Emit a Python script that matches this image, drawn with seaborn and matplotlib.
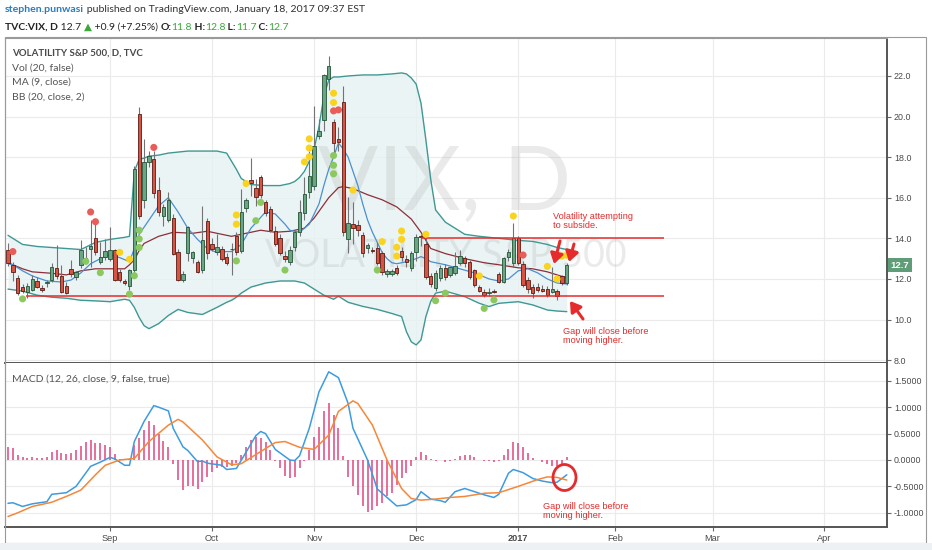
import matplotlib
matplotlib.use('Agg')
import matplotlib.pyplot as plt
from matplotlib.patches import Rectangle, Ellipse
import numpy as np
import pandas as pd
import seaborn as sns

# daily VIX candles, Aug 3 2016 .. Jan 18 2017 (one value per trading day)
opens = [13.45, 12.7, 12.05, 11.6, 11.38, 11.46, 11.9, 11.54, 11.8, 11.95,
         12.52, 12.15, 11.66, 12.49, 12.1, 12.69, 13.05, 13.46, 14.03, 12.85,
         13.1, 13.0, 13.43, 12.36, 11.9, 11.66, 12.44, 20.11, 15.89, 17.77,
         17.93, 16.38, 15.1, 14.9, 14.98, 13.34, 11.95, 13.26, 13.02, 12.82,
         12.44, 14.85, 13.7, 13.34, 13.48, 13.07, 13.48, 14.13, 13.4, 15.48,
         16.87, 16.46, 17.0, 15.77, 15.43, 14.38, 14.0, 13.15, 12.85, 13.59,
         14.33, 15.23, 16.3, 16.6, 19.04, 19.83, 21.84, 19.75, 18.9, 20.74,
         13.95, 14.7, 14.66, 14.17, 13.51, 13.42, 13.51, 13.26, 12.23, 12.25,
         12.53, 13.38, 13.0, 12.53, 13.35, 14.1, 13.72, 12.15, 11.54, 12.03,
         12.53, 12.2, 12.28, 12.8, 13.02, 12.85, 12.44, 11.59, 11.36, 11.32,
         11.38, 12.25, 11.87, 13.1, 12.77, 14.0, 12.74, 11.95, 11.62, 11.62,
         11.52, 11.5, 11.38, 11.43, 12.15, 11.8]
highs = [13.75, 12.85, 12.2, 11.75, 11.8, 12.2, 12.1, 11.7, 11.95, 12.8,
         13.65, 12.7, 11.85, 12.95, 12.4, 13.9, 13.55, 14.9, 14.75, 13.8,
         13.95, 14.55, 13.5, 12.5, 12.0, 12.5, 17.55, 20.47, 18.9, 18.3,
         18.3, 17.0, 15.7, 16.3, 15.2, 13.5, 12.4, 14.6, 13.4, 12.95,
         15.6, 15.0, 14.0, 14.2, 13.6, 13.3, 13.75, 14.3, 16.45, 16.0,
         17.95, 16.9, 17.1, 15.9, 15.6, 14.6, 14.2, 13.4, 13.6, 14.4,
         15.9, 17.0, 18.3, 20.5, 19.9, 22.1, 23.0, 19.9, 19.5, 21.5,
         16.05, 15.8, 14.9, 14.3, 13.75, 13.55, 13.8, 13.4, 12.5, 12.5,
         12.7, 13.55, 13.2, 13.4, 14.2, 14.2, 14.1, 12.3, 12.45, 12.7,
         12.75, 12.6, 13.35, 13.45, 13.15, 12.95, 12.5, 11.7, 11.5, 11.55,
         11.5, 12.35, 13.1, 13.5, 14.74, 14.1, 12.9, 12.1, 11.75, 11.8,
         11.7, 11.65, 12.6, 11.5, 12.2, 12.8]
lows = [12.65, 11.9, 11.2, 11.3, 11.05, 11.4, 11.55, 11.35, 11.6, 11.85,
        12.0, 11.3, 11.25, 12.1, 11.95, 12.55, 12.75, 12.6, 13.2, 12.75,
        12.95, 12.9, 11.9, 11.85, 11.7, 11.45, 12.3, 14.95, 15.5, 17.5,
        16.0, 15.1, 14.6, 14.8, 13.2, 11.9, 11.85, 12.9, 12.8, 12.3,
        12.3, 13.0, 13.4, 13.2, 12.9, 12.7, 12.2, 13.2, 13.3, 15.3,
        16.1, 15.6, 16.0, 15.1, 14.3, 13.6, 13.2, 12.85, 12.7, 13.4,
        14.1, 14.9, 16.0, 16.4, 18.9, 19.3, 21.3, 18.1, 18.3, 14.1,
        13.3, 13.7, 14.1, 13.1, 13.3, 13.3, 12.7, 12.2, 12.1, 12.15,
        12.2, 12.9, 12.6, 12.4, 12.9, 13.6, 12.0, 11.6, 11.4, 11.9,
        11.95, 12.1, 12.2, 12.7, 12.6, 12.0, 11.6, 11.35, 11.1, 11.15,
        11.3, 11.8, 11.8, 12.9, 12.6, 12.7, 11.6, 11.3, 11.05, 11.35,
        11.35, 11.1, 11.3, 10.96, 11.7, 11.7]
closes = [12.8, 12.35, 11.3, 11.42, 11.66, 12.0, 11.62, 11.47, 11.84, 12.6,
          12.15, 11.38, 11.3, 12.23, 12.36, 13.43, 12.9, 13.62, 13.34, 13.1,
          13.39, 13.43, 11.95, 11.95, 11.82, 12.44, 17.44, 15.1, 17.77, 18.07,
          16.21, 15.31, 15.56, 15.89, 13.23, 11.95, 12.25, 14.54, 13.31, 12.36,
          13.9, 13.26, 13.5, 13.57, 12.97, 12.8, 13.46, 13.34, 15.3, 15.89,
          16.71, 16.05, 16.13, 15.23, 14.41, 13.7, 13.26, 12.97, 13.43, 14.3,
          15.32, 16.2, 17.05, 18.57, 19.29, 22.05, 22.5, 18.68, 18.76, 14.33,
          14.74, 14.5, 14.41, 13.26, 13.67, 13.38, 12.77, 12.36, 12.39, 12.41,
          12.31, 13.07, 12.85, 13.26, 14.08, 14.05, 12.11, 11.75, 12.28, 12.53,
          12.08, 12.57, 12.64, 13.13, 12.77, 12.11, 11.7, 11.43, 11.2, 11.36,
          11.37, 11.87, 13.02, 13.35, 14.0, 12.77, 11.7, 11.49, 11.3, 11.46,
          11.43, 11.2, 11.49, 11.18, 11.79, 12.7]

# Bollinger bands (20, 2) read at sample bars
bb_idx = [0, 3, 6, 9, 12, 15, 18, 21, 24, 25,
          26, 27, 28, 29, 31, 33, 35, 37, 40, 43,
          45, 46, 47, 48, 50, 53, 56, 58, 59, 60,
          61, 62, 63, 64, 65, 66, 67, 68, 70, 73,
          76, 79, 81, 82, 83, 84, 85, 86, 87, 88,
          90, 94, 97, 99, 101, 105, 108, 111, 113, 115]
bb_upper = [14.15, 13.7, 13.6, 13.55, 13.5, 13.45, 13.8, 13.95, 14.05, 14.1,
            17.3, 17.9, 17.95, 18.05, 18.1, 18.2, 18.25, 18.3, 18.3, 18.3,
            18.2, 17.8, 17.4, 16.95, 16.65, 16.6, 16.6, 16.7, 16.8, 17.0,
            17.3, 17.8, 18.4, 19.5, 21.0, 21.8, 21.95, 21.95, 22.0, 22.05,
            22.05, 22.1, 22.15, 22.1, 21.9, 21.6, 20.65, 18.85, 16.9, 15.4,
            14.8, 14.2, 14.1, 14.05, 14.0, 13.9, 13.85, 13.7, 13.55, 13.45]
bb_lower = [11.5, 11.4, 11.2, 11.1, 11.05, 10.95, 10.92, 10.88, 11.0, 10.95,
            10.6, 10.1, 9.7, 9.55, 9.8, 10.2, 10.5, 10.35, 10.25, 10.6,
            10.85, 10.95, 11.1, 11.3, 11.6, 11.8, 11.9, 11.9, 11.9, 11.85,
            11.8, 11.65, 11.5, 11.35, 11.2, 11.1, 11.0, 11.15, 10.85, 10.65,
            10.5, 10.3, 10.15, 9.4, 8.9, 8.75, 9.0, 10.15, 10.9, 11.3,
            11.4, 11.13, 10.8, 10.64, 10.8, 10.88, 10.72, 10.47, 10.42, 10.39]

# BB basis (20) and MA (9)
basis_idx = [0, 3, 5, 9, 12, 15, 18, 21, 24, 25, 26, 27, 28, 31, 34, 38, 41, 44,
             46, 49, 52, 55, 58, 61, 63, 66, 68, 69, 71, 74, 77, 80, 83, 85, 87,
             90, 94, 98, 101, 105, 108, 111, 113, 115]
basis_val = [12.8, 12.5, 12.35, 12.28, 12.2, 12.4, 12.5, 12.5, 12.5, 12.7, 12.95,
             13.4, 13.75, 14.1, 14.3, 14.25, 14.35, 14.2, 14.1, 14.25, 14.4, 14.3,
             14.35, 14.5, 15.0, 16.0, 16.5, 16.55, 16.45, 16.15, 15.9, 15.55,
             14.95, 14.3, 13.5, 13.25, 13.0, 12.8, 12.7, 12.55, 12.5, 12.35,
             12.2, 12.05]
ma9_idx = [0, 1, 3, 5, 8, 11, 13, 15, 17, 19, 21, 23, 25, 26, 27, 29, 31, 33,
           35, 37, 39, 41, 43, 45, 46, 48, 50, 53, 55, 57, 58, 60, 62, 63, 64,
           65, 66, 67, 68, 69, 70, 71, 72, 73, 74, 75, 76, 77, 78, 79, 80, 82,
           84, 85, 86, 87, 88, 90, 93, 96, 99, 101, 103, 105, 107, 109, 111,
           113, 115]
ma9_val = [12.75, 12.7, 12.4, 12.15, 11.9, 11.85, 11.95, 12.3, 12.75, 13.0,
           13.2, 13.05, 12.85, 13.5, 14.2, 14.9, 15.6, 16.0, 15.3, 14.5, 13.95,
           13.5, 13.3, 13.35, 13.35, 13.7, 14.5, 15.3, 15.2, 14.7, 14.4, 14.3,
           14.7, 15.2, 15.7, 16.6, 17.4, 18.0, 18.7, 18.4, 18.0, 17.3, 16.6,
           15.7, 14.9, 14.3, 13.8, 13.3, 13.0, 12.8, 12.75, 12.85, 13.0, 13.1,
           13.0, 12.85, 12.8, 12.7, 12.5, 12.3, 12.0, 11.9, 12.0, 12.4, 12.5,
           12.3, 12.0, 11.8, 11.75]

# coloured dots above / below the candles
red_dot_idx = [1, 17, 18, 30, 67, 68, 106]
red_dot_val = [13.35, 15.3, 14.82, 18.48, 20.28, 20.33, 13.18]
green_dot_idx = [3, 16, 19, 25, 26, 27, 27, 27, 47, 51, 52, 57, 67, 67, 67,
                 76, 88, 90, 98, 100]
green_dot_val = [11.02, 12.87, 12.31, 11.25, 12.16, 14.4, 13.97, 13.55, 12.89,
                 14.87, 15.77, 12.44, 18.08, 17.6, 17.18, 12.44, 10.93, 11.3,
                 10.55, 10.97]
yellow_dot_idx = [23, 25, 47, 47, 49, 61, 62, 62, 62, 67, 67, 71, 77, 80, 80,
                  81, 81, 86, 97, 104, 111, 113, 114, 115]
yellow_dot_val = [13.31, 12.97, 15.15, 14.7, 16.7, 17.77, 18.02, 18.45, 18.9,
                  21.15, 20.69, 16.38, 13.84, 13.56, 13.13, 13.95, 14.36, 14.2,
                  12.15, 15.1, 12.62, 12.0, 13.13, 13.17]

# MACD (12, 26, 9)
macd_idx = [0, 1, 3, 5, 8, 9, 12, 14, 17, 19, 21, 22, 24, 25, 26, 28, 30, 31,
            33, 34, 36, 37, 39, 40, 41, 44, 45, 47, 49, 51, 52, 53, 55, 58, 59,
            60, 62, 64, 66, 68, 70, 71, 74, 76, 80, 82, 84, 85, 87, 89, 90, 92,
            94, 96, 98, 100, 101, 103, 104, 106, 108, 110, 112, 113, 115]
macd_val = [-0.82, -0.81, -0.88, -0.83, -0.79, -0.65, -0.62, -0.5, -0.12, -0.04,
            0.05, 0.02, -0.1, -0.1, 0.35, 0.73, 1.03, 1.0, 0.93, 0.6, 0.25, 0.18,
            -0.03, -0.02, -0.06, -0.1, -0.18, -0.16, 0.15, 0.46, 0.54, 0.5, 0.2,
            0.0, -0.01, 0.08, 0.6, 1.29, 1.67, 1.56, 1.07, 0.6, 0.0, -0.55, -0.87,
            -0.85, -0.75, -0.6, -0.74, -0.77, -0.8, -0.6, -0.54, -0.6, -0.66,
            -0.71, -0.65, -0.25, -0.18, -0.24, -0.35, -0.4, -0.43, -0.42, -0.28]
signal_idx = [0, 2, 5, 9, 12, 15, 18, 20, 23, 26, 29, 33, 35, 36, 40, 43, 46, 48,
              52, 55, 57, 60, 63, 66, 68, 71, 72, 75, 78, 81, 83, 85, 88, 91, 94,
              98, 101, 105, 109, 111, 113, 115]
signal_val = [-1.07, -1.0, -0.88, -0.8, -0.69, -0.57, -0.28, -0.1, 0.0, 0.03,
              0.35, 0.66, 0.77, 0.72, 0.38, 0.06, -0.09, -0.07, 0.16, 0.33, 0.35,
              0.24, 0.2, 0.47, 0.92, 1.12, 1.07, 0.66, 0.0, -0.54, -0.73, -0.76,
              -0.74, -0.71, -0.69, -0.63, -0.62, -0.5, -0.37, -0.32, -0.33, -0.38]
hist = [0.24, 0.22, 0.09, 0.06, 0.045, 0.05, 0.045, 0.04, 0.06, 0.15,
        0.18, 0.14, 0.11, 0.14, 0.18, 0.27, 0.35, 0.38, 0.33, 0.32,
        0.28, 0.25, 0.11, 0.01, 0.0, 0.01, 0.28, 0.42, 0.56, 0.73,
        0.66, 0.5, 0.36, 0.24, -0.08, -0.38, -0.57, -0.5, -0.5, -0.54,
        -0.41, -0.33, -0.22, -0.16, -0.13, -0.13, -0.11, -0.06, 0.09, 0.24,
        0.38, 0.43, 0.41, 0.35, 0.19, -0.01, -0.16, -0.3, -0.35, -0.32,
        -0.16, -0.01, 0.18, 0.43, 0.63, 0.92, 1.07, 0.85, 0.6, 0.08,
        -0.32, -0.5, -0.66, -0.88, -0.98, -0.95, -0.88, -0.82, -0.69, -0.63,
        -0.47, -0.35, -0.25, -0.11, 0.06, 0.16, 0.09, 0.01, -0.01, 0.0,
        -0.04, -0.01, 0.01, 0.08, 0.09, 0.09, 0.05, 0.0, -0.01, -0.02,
        -0.04, -0.02, 0.09, 0.2, 0.35, 0.33, 0.24, 0.13, 0.04, 0.0,
        -0.03, -0.08, -0.11, -0.11, -0.09, 0.06]

price_ticks = [8, 10, 12, 14, 16, 18, 20, 22]
macd_ticks = [-1.0, -0.5, 0.0, 0.5, 1.0, 1.5]

# trading calendar (future bars continue as plain weekdays)
holidays = pd.to_datetime(['2016-09-05', '2016-11-24', '2016-12-26', '2017-01-02', '2017-01-16'])
days = pd.bdate_range('2016-08-03', '2017-04-28')
days = days[~days.isin(holidays)]
month_pos = [i for i in range(1, len(days)) if days[i].month != days[i - 1].month]
month_lab = ['2017' if days[i].month == 1 else days[i].strftime('%b') for i in month_pos]

W, H = 932, 550
def px(x, y):
    return x / W, 1 - y / H

sns.set_theme(style='white')
plt.rcParams['font.family'] = ['Lato', 'DejaVu Sans']

UP, UP_E = '#6ba583', '#225437'
DN, DN_E = '#d75442', '#5b1a13'
RED = '#e52b2b'

fig = plt.figure(figsize=(W / 100, H / 100), dpi=100)
ax = fig.add_axes([5 / W, 1 - 363 / H, 882 / W, 325 / H])
ax2 = fig.add_axes([5 / W, 1 - 527 / H, 882 / W, 164 / H])

n = len(closes)
idx = np.arange(n)
o, c = np.array(opens), np.array(closes)
up = c >= o
body_lo = np.minimum(o, c)
body_h = np.maximum(np.abs(c - o), 0.04)

# bands
ax.fill_between(bb_idx, bb_lower, bb_upper, color='#e6f2f3', alpha=0.8, lw=0, zorder=1)
sns.lineplot(x=bb_idx, y=bb_upper, ax=ax, color='#3f9893', lw=1.0, zorder=2)
sns.lineplot(x=bb_idx, y=bb_lower, ax=ax, color='#3f9893', lw=1.0, zorder=2)
sns.lineplot(x=basis_idx, y=basis_val, ax=ax, color='#8c2f39', lw=0.9, zorder=2)
sns.lineplot(x=ma9_idx, y=ma9_val, ax=ax, color='#4a8fcf', lw=0.9, zorder=2)

# watermark
ax.text(*px(445, 210), 'VIX, D', transform=fig.transFigure, ha='center', va='baseline',
        fontsize=64, color='#9a9a9a', alpha=0.2, zorder=1.5)
ax.text(*px(446, 267), 'VOLATILITY S&P 500', transform=fig.transFigure, ha='center',
        va='baseline', fontsize=27, color='#9a9a9a', alpha=0.2, zorder=1.5)

# candles
ax.vlines(idx, lows, highs, color='#737375', lw=0.8, zorder=3)
ax.bar(idx, body_h, bottom=body_lo, width=0.7,
       color=np.where(up, UP, DN), edgecolor=np.where(up, UP_E, DN_E), lw=0.6, zorder=4)

# dots
for xs, ys, col in [(red_dot_idx, red_dot_val, '#ea5c58'),
                    (green_dot_idx, green_dot_val, '#8cc860'),
                    (yellow_dot_idx, yellow_dot_val, '#fad31e')]:
    sns.scatterplot(x=xs, y=ys, ax=ax, color=col, s=26, edgecolor='none', zorder=5, legend=False)

# support / resistance
ax.hlines(14.0, 85, 135, color=RED, lw=1.1, zorder=4)
ax.hlines(11.18, 3.6, 135, color=RED, lw=1.1, zorder=4)

# MACD panel
ax2.vlines(idx, 0, hist, color='#e2457f', lw=1.1, zorder=3)
sns.lineplot(x=macd_idx, y=macd_val, ax=ax2, color='#3d9be0', lw=1.1, zorder=4)
sns.lineplot(x=signal_idx, y=signal_val, ax=ax2, color='#f5873a', lw=1.1, zorder=4)

xlim = (-0.62, 180.9)
for a in (ax, ax2):
    a.set_xlim(*xlim)
    a.set_xticks(month_pos)
    a.grid(True, color='#ebebeb', lw=0.8)
    a.set_axisbelow(True)
    a.set_xlabel('')
    a.set_ylabel('')
    a.yaxis.tick_right()
    a.tick_params(axis='y', right=True, length=3, width=0.8, color='#666', pad=2,
                  labelsize=6.4, labelcolor='#4a4a4a')
    for s in ('left', 'top'):
        a.spines[s].set_color('#9a9a9a')
        a.spines[s].set_linewidth(0.8)
    for s in ('right', 'bottom'):
        a.spines[s].set_color('#555555')
        a.spines[s].set_linewidth(1.4)

ax.set_ylim(7.86, 23.87)
ax.set_yticks(price_ticks)
ax.set_yticklabels([f'{t:.1f}' for t in price_ticks], family='Liberation Sans')
ax.tick_params(axis='x', bottom=False, labelbottom=False)

ax2.set_ylim(-1.269, 1.837)
ax2.set_yticks(macd_ticks)
ax2.set_yticklabels([f'{t:.4f}' for t in macd_ticks], family='Liberation Sans')
ax2.spines['top'].set_visible(False)
ax2.set_xticklabels(month_lab, family='Liberation Sans')
ax2.tick_params(axis='x', bottom=True, length=3, width=0.8, color='#666', pad=2,
                labelsize=6.6, labelcolor='#4a4a4a')
for lab in ax2.get_xticklabels():
    if lab.get_text() == '2017':
        lab.set_fontweight('bold')

# outer frame and bottom strip
fig.add_artist(Rectangle(px(5, 543), 921 / W, 506 / H, transform=fig.transFigure,
                         fill=False, ec='#9a9a9a', lw=0.8))
fig.add_artist(Rectangle((0, 0), 1, 7 / H, transform=fig.transFigure,
                         fc='#eef1f3', ec='none'))

# last price tag
fig.text(*px(900, 265), '12.7', ha='center', va='center', color='white', fontsize=6.8,
         family='Liberation Sans', fontweight='bold',
         bbox=dict(boxstyle='square,pad=0.28', fc='#5e9d78', ec='none'))

# indicator legends
fig.text(*px(12, 53), 'VOLATILITY S&P 500, D, TVC', fontsize=7.0, color='#4a4a4a',
         fontweight='bold', va='center')
for yy, s in [(68, 'Vol (20, false)'), (82, 'MA (9, close)'), (97, 'BB (20, close, 2)')]:
    fig.text(*px(12, yy), s, fontsize=7.5, color='#555', va='center')
fig.text(*px(12, 379), 'MACD (12, 26, close, 9, false, true)', fontsize=7.5,
         color='#555', va='center')

# header lines
fig.canvas.draw()
rend = fig.canvas.get_renderer()
def chain(x, y, parts, size):
    for s, col, wt in parts:
        t = fig.text(*px(x, y), s, color=col, fontsize=size, fontweight=wt,
                     va='center', ha='left', family=['Lato', 'DejaVu Sans'])
        x = t.get_window_extent(renderer=rend).x1

GRN = '#3aa83a'
chain(5, 10, [('stephen.punwasi', '#2b7bc0', 'bold'),
              (' published on TradingView.com, January 18, 2017 09:37 EST', '#333', 'normal')], 7.55)
chain(5, 27, [('TVC:VIX, D', '#222', 'bold'), (' 12.7 ', '#222', 'normal'),
              ('▲', GRN, 'normal'), (' +0.9 (+7.25%) ', '#222', 'normal'),
              ('O:', '#222', 'bold'), ('11.8', GRN, 'normal'),
              (' H:', '#222', 'bold'), ('12.8', GRN, 'normal'),
              (' L:', '#222', 'bold'), ('11.7', GRN, 'normal'),
              (' C:', '#222', 'bold'), ('12.7', GRN, 'normal')], 7.45)

# notes
note = dict(color=RED, fontsize=6.6, family='Liberation Sans', va='top', ha='left',
            linespacing=1.0)
fig.text(*px(553, 212), 'Volatility attempting\nto subside.', **note)
fig.text(*px(563, 327), 'Gap will close before\nmoving higher.', **note)
fig.text(*px(543, 502), 'Gap will close before\nmoving higher.', **note)

arrow = dict(arrowstyle='-|>,head_width=0.35,head_length=0.55', color=RED, lw=2.2,
             shrinkA=0, shrinkB=0, mutation_scale=11)
for a, b in [((560, 241), (554, 264)), ((574, 244), (569, 262)), ((583, 319), (570, 301))]:
    ax.annotate('', xy=px(*b), xycoords='figure fraction', xytext=px(*a),
                textcoords='figure fraction', arrowprops=arrow, zorder=6)

fig.add_artist(Ellipse(px(564.5, 477.5), 23 / W, 26 / H, transform=fig.transFigure,
                       fill=False, ec=RED, lw=2.0))

fig.savefig('out.png', dpi=100)
